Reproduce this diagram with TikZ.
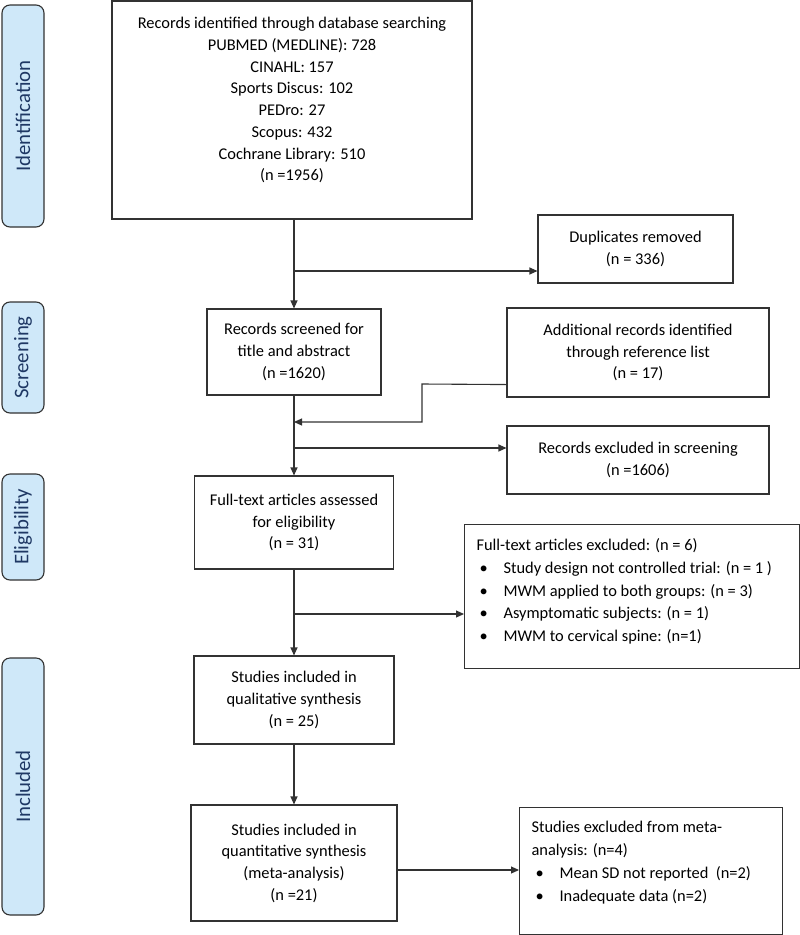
\documentclass[tikz,border=0pt]{standalone}
\usepackage{fontspec}
\setmainfont{Carlito}
\usetikzlibrary{arrows.meta}
\definecolor{lncol}{RGB}{50,50,50}
\definecolor{sidefill}{RGB}{207,232,249}
\definecolor{sidetext}{RGB}{31,56,100}
\begin{document}
\begin{tikzpicture}[x=1pt,y=-1pt,
  box/.style={draw=lncol, line width=1.1pt, inner sep=0pt, align=center, font=\fontsize{16.4}{21.7}\selectfont},
  lbox/.style={draw=lncol, line width=1.1pt, inner sep=0pt, anchor=north west, font=\fontsize{16.4}{22.8}\selectfont},
  side/.style={draw=lncol, fill=sidefill, line width=1.1pt, rounded corners=8pt, rotate=90, minimum height=42pt, inner sep=0pt, text=sidetext, font=\fontsize{20.8}{24}\selectfont},
  arr/.style={draw=lncol, line width=1.1pt, -{Triangle[length=8pt,width=7pt]}},
  plain/.style={draw=lncol, line width=1.1pt}]
\useasboundingbox (0,0) rectangle (800,935);

% phase labels
\node[side, minimum width=222] (sid) at (23,116) {Identification};
\node[side, minimum width=111] (sscr) at (23,357.5) {Screening};
\node[side, minimum width=106] (selig) at (23,527) {Eligibility};
\node[side, minimum width=257] (sinc) at (23,786.5) {Included};

% main column
\node[box, minimum width=360, minimum height=218] (top) at (292,110)
  {Records identified through database searching\\PUBMED (MEDLINE): 728\\CINAHL: 157\\Sports Discus: 102\\PEDro: 27\\Scopus: 432\\Cochrane Library: 510\\(n =1956)\\\mbox{}};
\node[box, minimum width=174, minimum height=86] (screen) at (294,352)
  {Records screened for\\title and abstract\\(n =1620)};
\node[box, minimum width=199, minimum height=93] (full) at (294,522.5)
  {Full-text articles assessed\\for eligibility\\(n = 31)};
\node[box, minimum width=200, minimum height=88] (qual) at (294,700)
  {Studies included in\\qualitative synthesis\\(n = 25)};
\node[box, minimum width=206, minimum height=116] (quant) at (294,863)
  {Studies included in\\quantitative synthesis\\(meta-analysis)\\(n =21)};

% right column
\node[box, minimum width=195, minimum height=68] (dup) at (635.5,249)
  {Duplicates removed\\(n = 336)};
\node[box, minimum width=262, minimum height=89] (add) at (638,352.5)
  {Additional records identified\\through reference list\\(n = 17)};
\node[box, minimum width=262, minimum height=68] (rex) at (638,460)
  {Records excluded in screening\\(n =1606)};
\node[lbox] (excl) at (464,524) {\parbox[c][144pt][t]{335pt}{\vspace*{14pt}\leftskip=12pt
  Full-text articles excluded: (n = 6)\\
  \makebox[27pt][l]{\hspace{3pt}•}Study design not controlled trial: (n = 1 )\\
  \makebox[27pt][l]{\hspace{3pt}•}MWM applied to both groups: (n = 3)\\
  \makebox[27pt][l]{\hspace{3pt}•}Asymptomatic subjects: (n = 1)\\
  \makebox[27pt][l]{\hspace{3pt}•}MWM to cervical spine: (n=1)}};
\node[lbox] (meta) at (519,807) {\parbox[c][127pt][t]{263pt}{\vspace*{14pt}\leftskip=12pt
  Studies excluded from meta-\\
  analysis: (n=4)\\
  \makebox[28pt][l]{\hspace{4pt}•}Mean SD not reported\ \ (n=2)\\
  \makebox[28pt][l]{\hspace{4pt}•}Inadequate data (n=2)}};

% connectors
\coordinate (b1) at (294,271);
\coordinate (b2) at (294,448);
\coordinate (b3) at (294,614);
\coordinate (a1) at ([yshift=13pt]add.south west);
\coordinate (a2) at (422,384);
\coordinate (a3) at (422,422);
\coordinate (m1) at (294,422);
\coordinate (q1) at ([yshift=-7pt]quant.east);

\draw[arr] (top.south -| screen.north) -- (screen.north);
\draw[arr] (b1) -- (b1 -| dup.west);
\draw[arr] (screen.south) -- (full.north);
\draw[arr] (a1) -- (a2) -- (a3) -- (m1);
\draw[arr] (b2) -- (b2 -| rex.west);
\draw[arr] (full.south) -- (qual.north);
\draw[arr] (b3) -- (b3 -| excl.west);
\draw[arr] (qual.south) -- (quant.north);
\draw[arr] (q1) -- (q1 -| meta.west);
\end{tikzpicture}
\end{document}
